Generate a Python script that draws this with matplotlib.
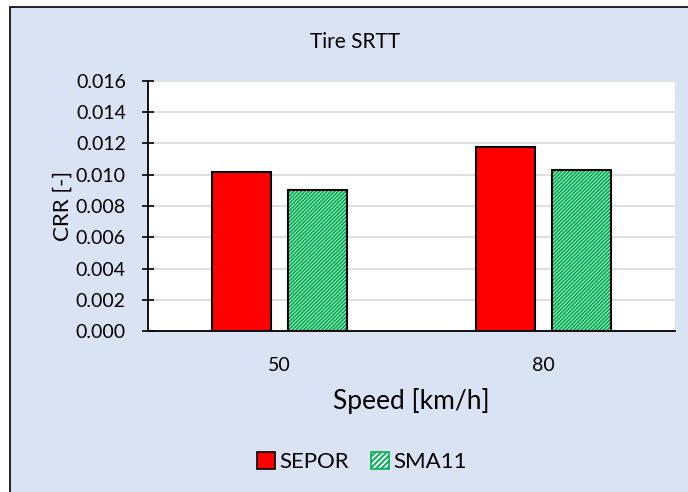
import numpy as np
import matplotlib.pyplot as plt
from matplotlib.patches import Rectangle, Patch

speeds = ["50", "80"]
sepor = [0.0102, 0.0118]
sma11 = [0.0090, 0.0103]
yticks = [0.000, 0.002, 0.004, 0.006, 0.008, 0.010, 0.012, 0.014, 0.016]

plt.rcParams['font.family'] = ['Lato', 'DejaVu Sans']
plt.rcParams['hatch.linewidth'] = 1.4

W, H = 688, 492
fig = plt.figure(figsize=(W / 100, H / 100), dpi=100, facecolor='white')
# chart area background with border
fig.patches.append(Rectangle((10 / W, -0.01), 1.0, 1 - 7 / H + 0.01, transform=fig.transFigure,
                             facecolor='#dae3f3', edgecolor='black', linewidth=1.2, zorder=-10))

ax = fig.add_axes([148 / W, 1 - 331 / H, (675 - 148) / W, (331 - 81) / H])
ax.set_facecolor('white')

x = np.arange(len(speeds))
w = 0.224
off = 0.144
ax.bar(x - off, sepor, w, color='#ff0000', edgecolor='black', linewidth=1.5, zorder=3)
ax.bar(x + off, sma11, w, color='white', edgecolor='#00b050', hatch='/////////', linewidth=0, zorder=3)
ax.bar(x + off, sma11, w, fill=False, edgecolor='black', linewidth=1.5, zorder=4)

ax.set_xlim(-0.5, 1.5)
ax.set_ylim(0, 0.016)
ax.set_yticks(yticks)
ax.set_yticklabels([f"{v:.3f}" for v in yticks], fontsize=14)
ax.set_xticks(x)
ax.set_xticklabels(speeds, fontsize=14)
ax.tick_params(axis='x', length=0, pad=19)
ax.tick_params(axis='y', direction='inout', length=8, width=1.2, pad=12)
ax.yaxis.grid(True, color='#d9d9d9', linewidth=1.2, zorder=0)
ax.set_axisbelow(True)
for s in ['top', 'right']:
    ax.spines[s].set_visible(False)
for s in ['left', 'bottom']:
    ax.spines[s].set_linewidth(1.3)

ax.set_ylabel('CRR [-]', fontsize=16, labelpad=2)
ax.set_xlabel('Speed [km/h]', fontsize=19, labelpad=10)
fig.text(355 / W, 1 - 42 / H, 'Tire SRTT', ha='center', va='center', fontsize=15)

handles = [Patch(facecolor='#ff0000', edgecolor='black', linewidth=1.2, label='SEPOR'),
           Patch(facecolor='white', edgecolor='#00b050', hatch='//////', linewidth=1.2, label='SMA11')]
fig.legend(handles=handles, loc='center', bbox_to_anchor=(362 / W, 1 - 462 / H), ncol=2,
           frameon=False, fontsize=16, handlelength=0.8, handleheight=0.8,
           handletextpad=0.2, columnspacing=1.0)

fig.savefig('out.png', dpi=100, facecolor='white')
